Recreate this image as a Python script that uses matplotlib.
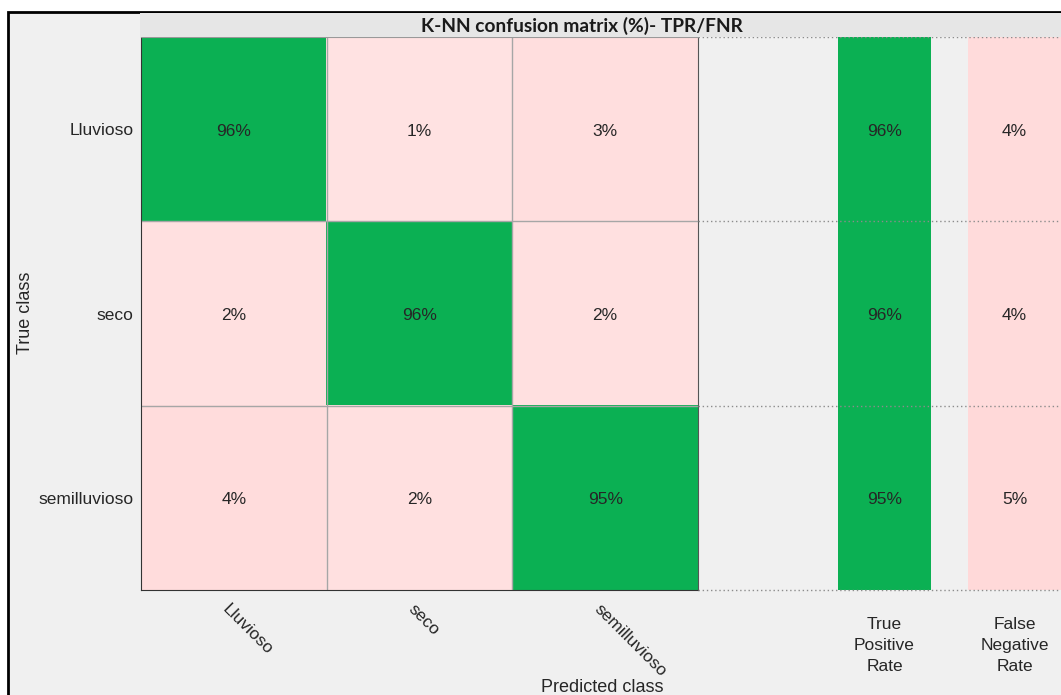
import numpy as np
import matplotlib.pyplot as plt
from matplotlib.patches import Rectangle
from matplotlib.transforms import ScaledTranslation

classes = ['Lluvioso', 'seco', 'semilluvioso']
conf_pct = np.array([[96, 1, 3],
                     [2, 96, 2],
                     [4, 2, 95]])
tpr = [96, 96, 95]
fnr = [4, 4, 5]
summary_labels = ['True\nPositive\nRate', 'False\nNegative\nRate']
title = 'K-NN confusion matrix (%)- TPR/FNR'

W, H = 1061, 695
GREEN = (11/255, 176/255, 83/255)
BG = '#f0f0f0'
TXT = '#262626'
FS = 12.5

plt.rcParams['font.family'] = ['Liberation Sans', 'DejaVu Sans']


def pink(v):
    # light pink that deepens slightly with the percentage
    g = 0.895 - 0.008 * v
    return (1.0, g, g)


def cell_color(i, j, v):
    return GREEN if i == j else pink(v)


def px_axes(x0, y0, x1, y1):
    return fig.add_axes([x0 / W, 1 - y1 / H, (x1 - x0) / W, (y1 - y0) / H])


fig = plt.figure(figsize=(W / 100, H / 100), dpi=100)
fig.patch.set_facecolor('white')

# window panel and title strip
fig.add_artist(Rectangle((8 / W, -0.05), 1.1, 1 - 12 / H + 0.05, transform=fig.transFigure,
                         facecolor=BG, edgecolor='black', lw=2, zorder=0))
fig.add_artist(Rectangle((140 / W, 1 - 37 / H), 1.0, 24 / H, transform=fig.transFigure,
                         facecolor='#e6e6e6', edgecolor='none', zorder=0.5))

# confusion matrix
ax = px_axes(141, 37, 698, 590)
n = len(classes)
img = np.array([[cell_color(i, j, conf_pct[i, j]) for j in range(n)] for i in range(n)])
ax.imshow(img, extent=(-0.5, n - 0.5, n - 0.5, -0.5), aspect='auto', interpolation='nearest')
for k in np.arange(0.5, n - 0.5):
    ax.axhline(k, color='#a6a6a6', lw=1)
    ax.axvline(k, color='#a6a6a6', lw=1)
for i in range(n):
    for j in range(n):
        ax.text(j, i + 0.01, f'{conf_pct[i, j]}%', ha='center', va='center', fontsize=FS, color=TXT)
ax.set_xticks(range(n))
ax.set_yticks(range(n))
ax.set_yticklabels(classes, fontsize=FS, color=TXT)
ax.set_xticklabels(classes, fontsize=FS, color=TXT, rotation=-45,
                   ha='left', va='center', rotation_mode='anchor')
ax.tick_params(axis='y', length=0, pad=5.5)
ax.tick_params(axis='x', length=0, pad=12)
shift = ScaledTranslation(-9 / 100, 0, fig.dpi_scale_trans)
for lab in ax.get_xticklabels():
    lab.set_transform(lab.get_transform() + shift)
ax.spines['left'].set_color('#333333')
ax.spines['bottom'].set_color('#333333')
ax.spines['right'].set_color('#555555')
ax.spines['top'].set_color('#999999')

# TPR / FNR summary columns
sx = px_axes(698, 37, 1061, 590)
sx.set_facecolor('none')
for i in range(n):
    sx.bar(0, 1, bottom=i - 0.5, width=0.715, color=GREEN, edgecolor='none')
    sx.bar(1, 1, bottom=i - 0.5, width=0.715, color=pink(fnr[i] + 0.5), edgecolor='none')
    sx.text(0, i + 0.01, f'{tpr[i]}%', ha='center', va='center', fontsize=FS, color=TXT)
    sx.text(1, i + 0.01, f'{fnr[i]}%', ha='center', va='center', fontsize=FS, color=TXT)
for k in np.arange(-0.5, n):
    sx.axhline(k, color='#8c8c8c', lw=1, ls=(0, (1, 2)), clip_on=False)
sx.set_xlim(-1.435, 1.358)
sx.set_ylim(n - 0.5, -0.5)
sx.set_xticks([0, 1])
sx.set_xticklabels(summary_labels, fontsize=FS, color=TXT, linespacing=1.5)
sx.set_yticks([])
sx.tick_params(length=0, pad=19.5)
for s in sx.spines.values():
    s.set_visible(False)

fig.text(582 / W, 1 - 26 / H, title, ha='center', va='center', fontsize=13.8,
         fontweight='bold', family=['Lato', 'DejaVu Sans'], color='#1a1a1a')
fig.text(25 / W, 1 - 313 / H, 'True class', rotation=90, ha='center', va='center',
         fontsize=13, color=TXT)
fig.text(602 / W, 1 - 687 / H, 'Predicted class', ha='center', va='center',
         fontsize=13, color=TXT)

fig.savefig('out.png', dpi=100)
